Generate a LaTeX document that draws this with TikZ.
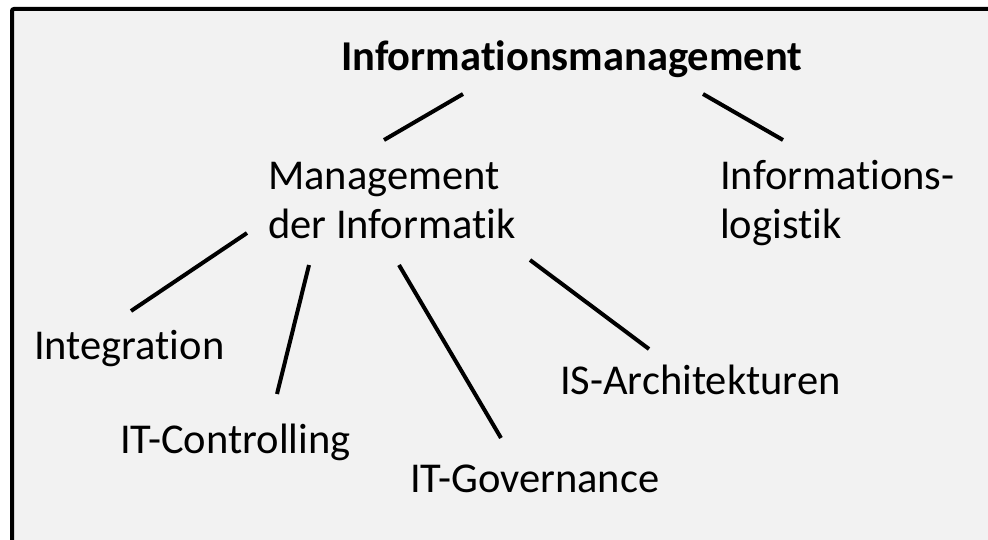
\documentclass[tikz,border=0pt]{standalone}
\usepackage{fontspec}
\setmainfont[Ligatures=NoCommon]{Carlito}
\definecolor{panelgray}{HTML}{F2F2F2}

\tikzset{
  itemtext/.style={anchor=base west, inner sep=0pt, align=left,
    font=\fontsize{42.5}{49}\selectfont},
  roottext/.style={itemtext, font=\fontsize{42.5}{49}\selectfont\bfseries},
  branch/.style={line width=4pt, black}
}

\begin{document}
\begin{tikzpicture}[x=1pt,y=-1pt]
 \useasboundingbox (0,0) rectangle (988,540);
 \fill[white] (0,0) rectangle (988,540);
 % panel, right and bottom edge cut off
 \fill[panelgray] (12,9) rectangle (1000,560);
 \draw[line width=4pt, rounded corners=2pt] (12,560) -- (12,9) -- (1000,9);

 \node[roottext] (infman) at (341,71) {Informationsmanagement};
 % base anchor sits on the last line
 \node[itemtext] (mgmtinf) at (268,239) {Management\\der Informatik};
 \node[itemtext] (inflog) at (720,239) {Informations-\\logistik};
 \node[itemtext] (integr) at (34,359) {Integration};
 \node[itemtext] (itctrl) at (120,453) {IT-Controlling};
 \node[itemtext] (itgov) at (410,492) {IT-Governance};
 \node[itemtext] (isarch) at (560,394) {IS-Architekturen};

 % connector ends
 \coordinate (rootl) at (463,94);
 \coordinate (mgmttop) at (384,140);
 \coordinate (rootr) at (703,94);
 \coordinate (logtop) at (783,140);
 \coordinate (mgmt1) at (247,233);
 \coordinate (integrtop) at (131,311);
 \coordinate (mgmt2) at (309,265);
 \coordinate (itctrltop) at (277,394);
 \coordinate (mgmt3) at (399,265);
 \coordinate (itgovtop) at (501,438);
 \coordinate (mgmt4) at (530,260);
 \coordinate (isarchtop) at (649,349);

 \draw[branch] (rootl) -- (mgmttop);
 \draw[branch] (rootr) -- (logtop);
 \draw[branch] (mgmt1) -- (integrtop);
 \draw[branch] (mgmt2) -- (itctrltop);
 \draw[branch] (mgmt3) -- (itgovtop);
 \draw[branch] (mgmt4) -- (isarchtop);
\end{tikzpicture}
\end{document}
